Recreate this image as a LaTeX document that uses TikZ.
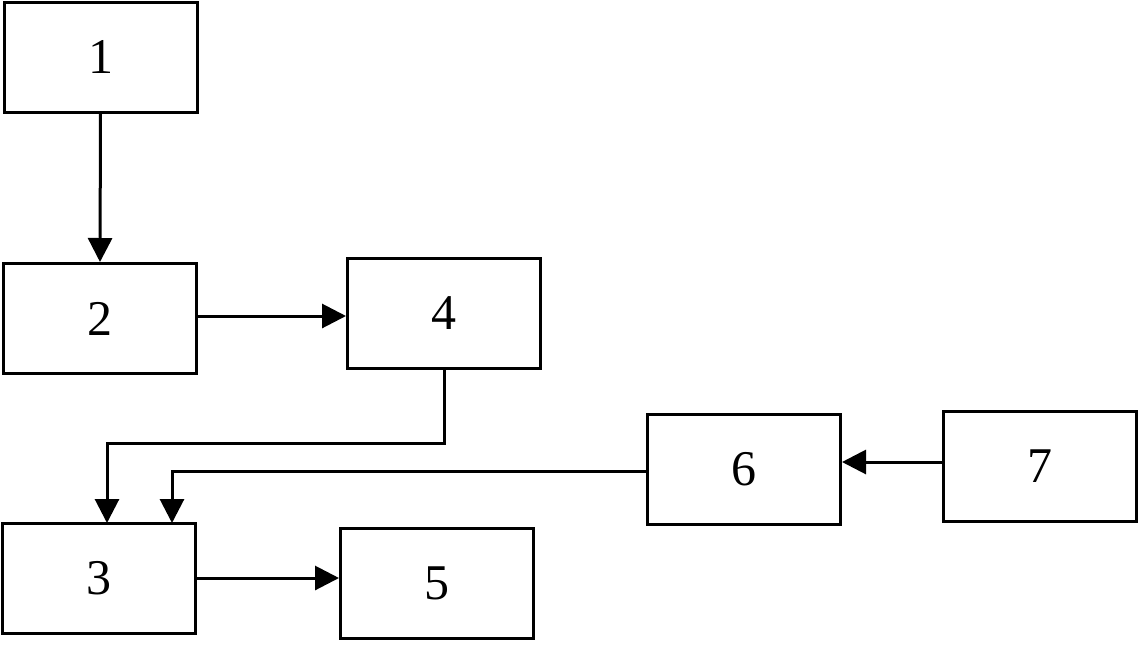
\documentclass[tikz,border=0pt]{standalone}
\usepackage{fontspec}
\setmainfont{Liberation Serif}
\usetikzlibrary{arrows.meta}
\begin{document}
\begin{tikzpicture}[x=1pt,y=-1pt,
  blk/.style={draw,line width=3pt,minimum width=193pt,minimum height=110pt,inner sep=0pt,font=\fontsize{50}{54}\selectfont},
  conn/.style={line width=3pt,-{Triangle[length=24pt,width=24pt]}}]
\useasboundingbox (0,0) rectangle (1139,659);
\node[blk] (n1) at (100.5,57) {1};
\node[blk] (n2) at (100,318.5) {2};
\node[blk] (n4) at (444,313) {4};
\node[blk] (n6) at (744,469.5) {6};
\node[blk] (n7) at (1039.5,466.5) {7};
\node[blk] (n3) at (99,578) {3};
\node[blk] (n5) at (437,583) {5};
\draw[conn] (n1.south) -- (n2.north);
\draw[conn] (n2.east |- 0,316) -- (n4.west |- 0,316);
\draw[conn] (n4.south) |- (107,443) -- (107,523);
\draw[conn] (n6.west |- 0,471) -| (172,523);
\draw[conn] (n7.west |- 0,462) -- (n6.east |- 0,462);
\draw[conn] (n3.east |- 0,578) -- (n5.west |- 0,578);
\end{tikzpicture}
\end{document}
